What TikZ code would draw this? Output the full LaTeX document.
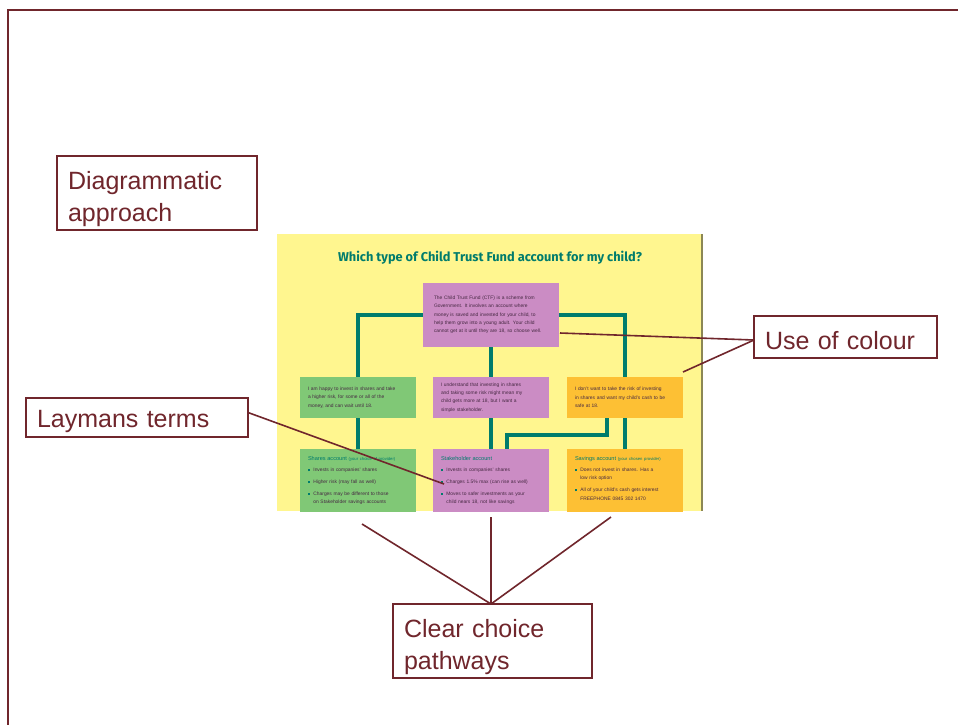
\documentclass[tikz,border=0pt]{standalone}
\usepackage{fontspec}
\setmainfont{Liberation Sans}
\newfontfamily\titlefont{Fira Sans}
\definecolor{dkred}{RGB}{112,38,44}
\definecolor{cyel}{RGB}{255,246,143}
\definecolor{cpur}{RGB}{203,140,196}
\definecolor{cgrn}{RGB}{128,200,118}
\definecolor{corg}{RGB}{253,192,52}
\definecolor{cteal}{RGB}{0,124,108}
\definecolor{ctxt}{RGB}{70,40,66}
\definecolor{cedge}{RGB}{140,135,85}
\newcommand{\bl}{\textcolor{cteal}{\rule[0.4pt]{2.4pt}{2.4pt}}\hspace{3pt}}
\newcommand{\ind}{\hspace*{5.4pt}}
\begin{document}
\begin{tikzpicture}[x=1pt,y=-1pt,
  lbl/.style={draw=dkred, line width=1.4pt, text=dkred, anchor=north west,
    font=\fontsize{25}{32}\selectfont, align=left, inner xsep=11pt, inner ysep=2pt, outer sep=0pt},
  conn/.style={draw=dkred, line width=1.6pt},
  sbox/.style={anchor=north west, align=left, text=ctxt, inner xsep=8pt, inner ysep=4pt,
    outer sep=0pt, font=\fontsize{4.9}{8.3}\selectfont, text width=100pt},
  bbox/.style={sbox, text height=5pt, text depth=62pt, inner ysep=6pt},
  tline/.style={draw=cteal, line width=4pt}]
\useasboundingbox (0,0) rectangle (958,724);
\fill[white] (0,0) rectangle (958,724);
% frame
\draw[dkred, line width=2pt] (975,10) -- (8,10) -- (8,740);
% embedded picture
\fill[cyel] (277,234) rectangle (701,511);
\draw[cedge, line width=2pt] (702,234) -- (702,511);
\begin{scope}
\clip (277,234) rectangle (701,511);
\node[text=cteal, font=\titlefont\bfseries\fontsize{12.8}{14}\selectfont] (title) at (490,258)
  {Which type of Child Trust Fund account for my child?};
\node[sbox, fill=cpur, text width=114pt, inner xsep=11pt, minimum height=64pt] (top) at (423,283)
  {The Child Trust Fund (CTF) is a scheme from\\
   Government. It involves an account where\\
   money is saved and invested for your child, to\\
   help them grow into a young adult. Your child\\
   cannot get at it until they are 18, so choose well.};
\node[sbox, fill=cgrn, minimum height=41pt] (g2) at (300,377)
  {I am happy to invest in shares and take\\
   a higher risk, for some or all of the\\
   money, and can wait until 18.};
\node[sbox, fill=cpur, minimum height=41pt] (p2) at (433,377)
  {I understand that investing in shares\\
   and taking some risk might mean my\\
   child gets more at 18, but I want a\\
   simple stakeholder.};
\node[sbox, fill=corg, minimum height=41pt] (o2) at (567,377)
  {I don't want to take the risk of investing\\
   in shares and want my child's cash to be\\
   safe at 18.};
\node[bbox, fill=cgrn] (g3) at (300,449)
  {{\color{cteal}\fontsize{5.6}{8}\selectfont Shares account \fontsize{4.2}{8}\selectfont (your choice of provider)}\\[3.2pt]
   \bl Invests in companies' shares\\[3.6pt]
   \bl Higher risk (may fall as well)\\[3.6pt]
   \bl Charges may be different to those\\
   \ind on Stakeholder savings accounts};
\node[bbox, fill=cpur] (p3) at (433,449)
  {{\color{cteal}\fontsize{5.6}{8}\selectfont Stakeholder account}\\[3.2pt]
   \bl Invests in companies' shares\\[3.6pt]
   \bl Charges 1.5\% max (can rise as well)\\[3.6pt]
   \bl Moves to safer investments as your\\
   \ind child nears 18, not like savings};
\node[bbox, fill=corg] (o3) at (567,449)
  {{\color{cteal}\fontsize{5.6}{8}\selectfont Savings account \fontsize{4.2}{8}\selectfont (your chosen provider)}\\[3.2pt]
   \bl Does not invest in shares. Has a\\
   \ind low risk option\\[3.6pt]
   \bl All of your child's cash gets interest\\
   \ind FREEPHONE 0845 302 1470};
% teal pathways
\draw[tline] (top.west) -| (g2.north);
\draw[tline] (top.east) -| (o2.north);
\draw[tline] (top.south) -- (p2.north);
\draw[tline] (g2.south) -- (g3.north);
\draw[tline] (p2.south) -- (p3.north);
\draw[tline] (o2.south) -- (o3.north);
\draw[tline] ([xshift=-18pt]o2.south) -- ++(0,17) -| ([xshift=16pt]p3.north);
\end{scope}
% labels
\node[lbl, text width=178pt, text height=31pt, text depth=39pt] (dia) at (57,156) {Diagrammatic\\approach};
\node[lbl, text width=161pt, text height=31pt, text depth=7pt] (uoc) at (754,316) {Use of colour};
\node[lbl, text width=200pt, text height=27pt, text depth=8pt] (lay) at (26,398) {Laymans terms};
\node[lbl, text width=177pt, text height=31pt, text depth=39pt] (ccp) at (393,604) {Clear choice\\pathways};
% pointer lines
\coordinate (uc1) at (560,333);
\coordinate (uc2) at (683,372);
\coordinate (lt1) at (444,484);
\coordinate (cc1) at (362,524);
\coordinate (cc2) at (491,517);
\coordinate (cc3) at (611,517);
\draw[conn] ([yshift=-3pt]uoc.west) -- (uc1);
\draw[conn] ([yshift=-3pt]uoc.west) -- (uc2);
\draw[conn] ([yshift=5pt]lay.east) -- (lt1);
\draw[conn] (cc2 |- ccp.north) -- (cc1);
\draw[conn] (cc2 |- ccp.north) -- (cc2);
\draw[conn] (cc2 |- ccp.north) -- (cc3);
\end{tikzpicture}
\end{document}
